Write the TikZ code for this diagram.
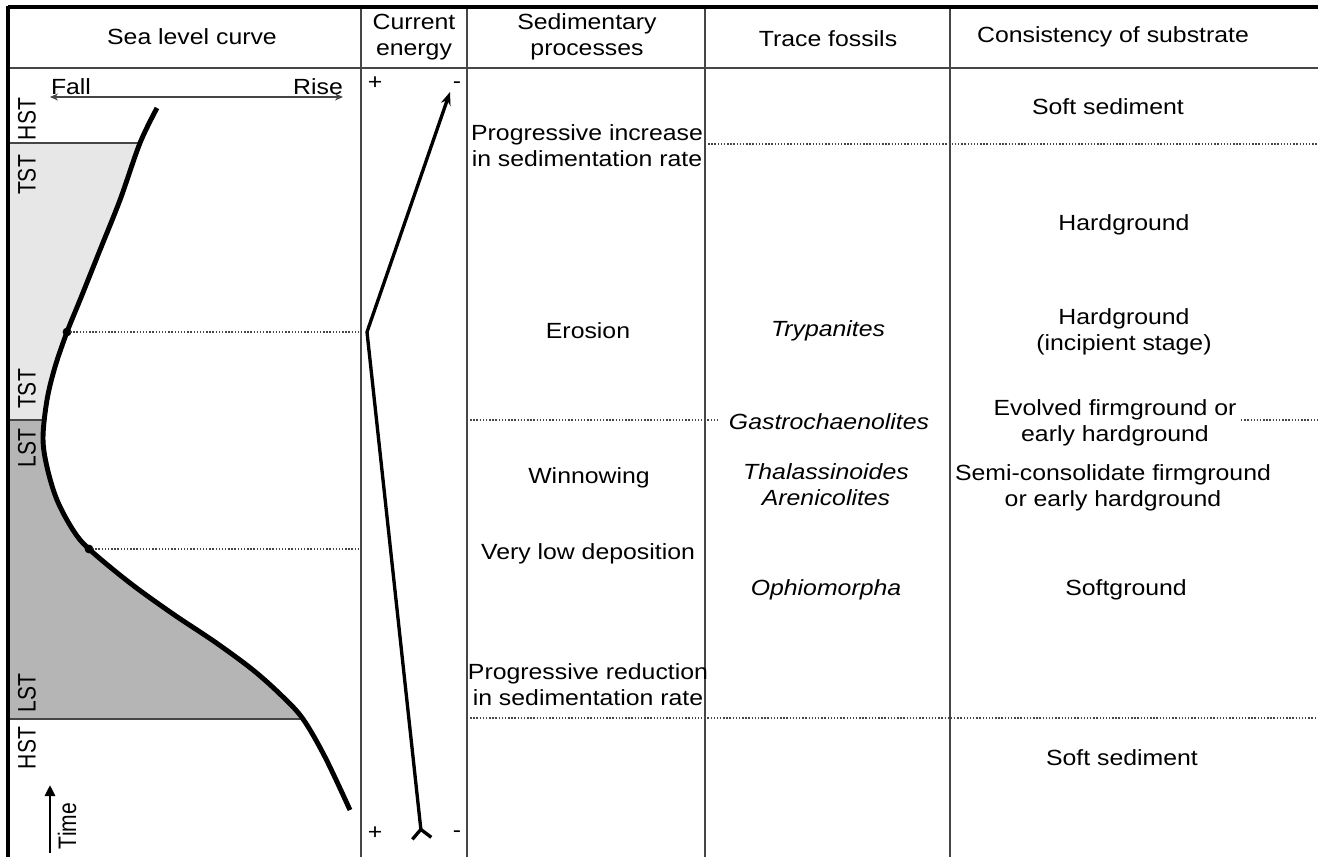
\documentclass[tikz,border=0pt]{standalone}
\usepackage{fontspec}
\usepackage{graphicx}
\setmainfont{Liberation Sans}[FakeStretch=1.13]
\newfontfamily\plainsans{Liberation Sans}
\usetikzlibrary{arrows.meta, calc}
\definecolor{rulegray}{RGB}{70,70,70}
\definecolor{tstgray}{RGB}{231,231,231}
\definecolor{lstgray}{RGB}{181,181,181}
\newcommand{\sealevelpts}{(157,108) (140,143) (120,200) (100,250) (80,300) (67,332) (55,367) (47,400) (43,438) (47,467) (57,500) (73,530) (89,549) (130,583) (173,614) (215,642) (253,670) (282,696) (303,719) (325,757) (350,810)}
\newcommand{\tracttext}[1]{\scalebox{1}[1.2]{#1}}

\begin{document}
\begin{tikzpicture}[
    x=0.02cm, y=-0.02cm,
    txt/.style={font=\fontsize{12.5}{14.8}\selectfont, align=center, inner sep=0pt},
    taxon/.style={txt, font=\fontsize{12.5}{14.8}\selectfont\itshape},
    tract/.style={font=\plainsans\fontsize{12}{14}\selectfont, rotate=90, inner sep=0pt},
    rulecol/.style={rulegray, line width=1.1pt},
    frame/.style={black, line width=2.2pt},
    surface/.style={rulegray, densely dotted, line width=0.8pt},
    sealevel/.style={black, line width=2.8pt},
    energy/.style={black, line width=1.9pt},
    dot/.style={circle, fill=black, inner sep=0pt, minimum size=5pt}
]
    \useasboundingbox (0,0) rectangle (1318,857);

    % Column edges
    \coordinate (c1) at (361,0);
    \coordinate (c2) at (467,0);
    \coordinate (c3) at (705,0);
    \coordinate (c4) at (950,0);

    % Shaded systems tracts
    \begin{scope}
        \clip (8,143) rectangle (361,420);
        \fill[tstgray] (8,90) -- plot[smooth, tension=0.55] coordinates {\sealevelpts} -- (8,830) -- cycle;
    \end{scope}
    \begin{scope}
        \clip (8,420) rectangle (361,719);
        \fill[lstgray] (8,90) -- plot[smooth, tension=0.55] coordinates {\sealevelpts} -- (8,830) -- cycle;
    \end{scope}

    % Table rules
    \foreach \cx in {361,467,705,950}
        \draw[rulecol] (\cx,7) -- (\cx,857);
    \draw[rulecol] (8,68) -- (1318,68);
    \draw[rulecol] (8,143) -- (140,143);
    \draw[rulecol] (8,420) -- (44,420);
    \draw[rulecol] (8,719) -- (303,719);
    \draw[frame] (8,7) -- (1318,7);
    \draw[frame] (8,6) -- (8,857);

    % Headings
    \node[txt] (sealevelhd) at (192,37) {Sea level curve};
    \node[txt] (energyhd) at (414,37) {Current\\energy};
    \node[txt] (sedhd) at (587,37) {Sedimentary\\processes};
    \node[txt] (tracehd) at (828,39) {Trace fossils};
    \node[txt] (substratehd) at (1113,37) {Consistency of substrate};

    % Sea level curve
    \node[txt] (fall) at (71,87) {Fall};
    \node[txt] (rise) at (318,87) {Rise};
    \coordinate (fallend) at (50,97);
    \coordinate (riseend) at (343,97);
    \draw[rulegray, line width=0.7pt, {Stealth[length=1.6mm, width=1.4mm]}-{Stealth[length=1.6mm, width=1.4mm]}] (fallend) -- (riseend);

    \node[tract] (hst1) at (27,119) {\tracttext{HST}};
    \node[tract] (tst1) at (27,175) {\tracttext{TST}};
    \node[tract] (tst2) at (27,389) {\tracttext{TST}};
    \node[tract] (lst1) at (27,448) {\tracttext{LST}};
    \node[tract] (lst2) at (27,693) {\tracttext{LST}};
    \node[tract] (hst2) at (27,748) {\tracttext{HST}};

    \node[dot] (tsurf) at (67,332) {};
    \node[dot] (msurf) at (89,549) {};
    \draw[surface] (tsurf.center) -- (tsurf -| c1);
    \draw[surface] (msurf.center) -- (msurf -| c1);
    \draw[sealevel] plot[smooth, tension=0.55] coordinates {\sealevelpts};

    \coordinate (timefoot) at (50,853);
    \coordinate (timehead) at (50,785);
    \draw[black, line width=1.7pt, -{Triangle[length=2.2mm, width=2mm]}] (timefoot) -- (timehead);
    \node[tract] (time) at (67,826) {\tracttext{Time}};

    % Current energy
    \node[txt] (plustop) at (375,83) {+};
    \node[txt] (minustop) at (457,85) {-};
    \node[txt] (plusbot) at (375,833) {+};
    \node[txt] (minusbot) at (457,834) {-};
    \coordinate (ebot) at (422,840);
    \coordinate (emid) at (367,332);
    \coordinate (etop) at (450,92);
    \draw[energy, {Straight Barb[reversed, length=1.8mm, width=3.8mm]}-{Stealth[length=2.6mm, width=2mm]}] (ebot) -- (emid) -- (etop);

    % Surfaces across the columns
    \draw[surface] (c3 |- 0,144) -- (1318,144);
    \draw[surface] (c2 |- 0,420) -- (717,420);
    \draw[surface] (1241,420) -- (1318,420);
    \draw[surface] (c2 |- 0,718) -- (1318,718);

    % Sedimentary processes
    \node[txt] (increase) at (587,146) {Progressive increase\\in sedimentation rate};
    \node[txt] (erosion) at (588,331) {Erosion};
    \node[txt] (winnow) at (589,478) {Winnowing};
    \node[txt] (lowdep) at (588,554) {Very low deposition};
    \node[txt] (reduction) at (588,685) {Progressive reduction\\in sedimentation rate};

    % Trace fossils
    \node[taxon] (trypanites) at (828,331) {Trypanites};
    \node[taxon] (gastro) at (829,422) {Gastrochaenolites};
    \node[taxon] (thalass) at (826,485) {Thalassinoides\\Arenicolites};
    \node[taxon] (ophio) at (826,590) {Ophiomorpha};

    % Consistency of substrate
    \node[txt] (softtop) at (1108,107) {Soft sediment};
    \node[txt] (hard) at (1124,225) {Hardground};
    \node[txt] (incipient) at (1124,332) {Hardground\\(incipient stage)};
    \node[txt] (evolved) at (1115,423) {Evolved firmground or\\early hardground};
    \node[txt] (semicons) at (1113,488) {Semi-consolidate firmground\\or early hardground};
    \node[txt] (softg) at (1126,590) {Softground};
    \node[txt] (softbot) at (1122,758) {Soft sediment};
\end{tikzpicture}
\end{document}
